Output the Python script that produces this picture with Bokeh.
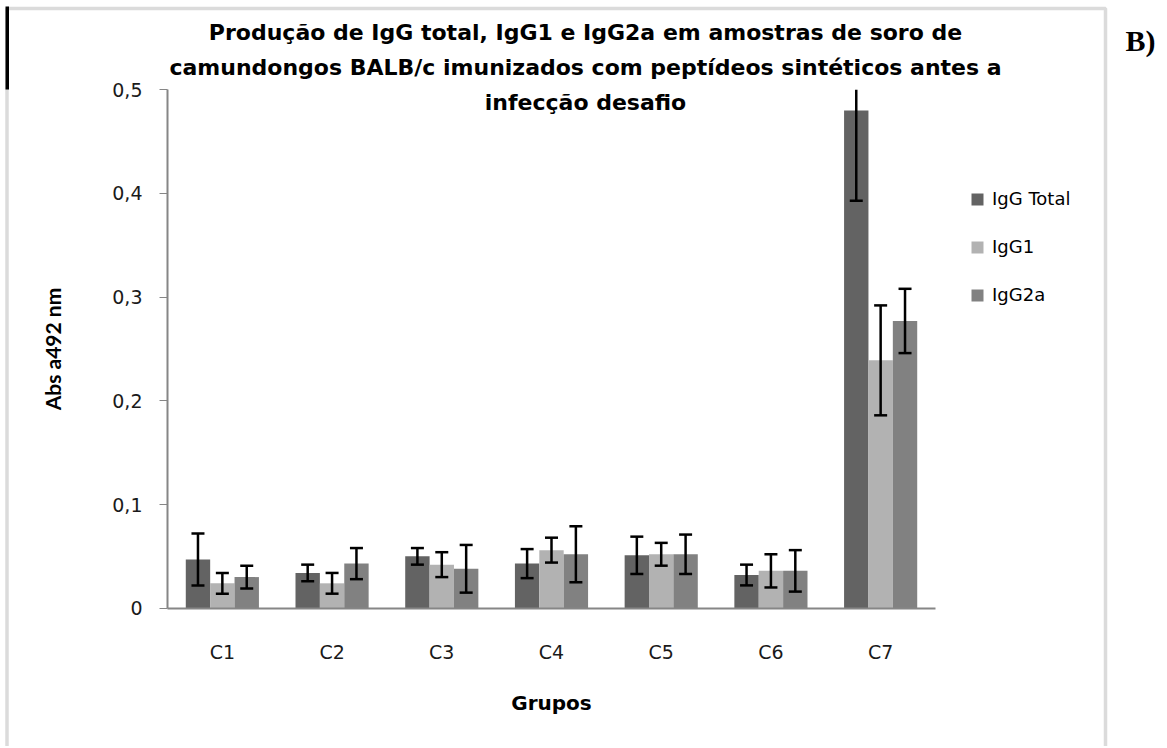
from bokeh.plotting import figure
from bokeh.models import (ColumnDataSource, Range1d, FixedTicker, Label, CDSView,
                          BooleanFilter, Legend, LegendItem, BoxAnnotation)
from bokeh.transform import dodge
from bokeh.embed import file_html
from bokeh.resources import INLINE

# ---------------- data ----------------
groups = ["C1", "C2", "C3", "C4", "C5", "C6", "C7"]
series_names = ["IgG Total", "IgG1", "IgG2a"]
igg_total = [0.047, 0.034, 0.050, 0.043, 0.051, 0.032, 0.480]
igg_total_err = [0.025, 0.008, 0.008, 0.014, 0.018, 0.010, 0.087]
igg1 = [0.024, 0.024, 0.042, 0.056, 0.052, 0.036, 0.239]
igg1_err = [0.010, 0.010, 0.012, 0.012, 0.011, 0.016, 0.053]
igg2a = [0.030, 0.043, 0.038, 0.052, 0.052, 0.036, 0.277]
igg2a_err = [0.011, 0.015, 0.023, 0.027, 0.019, 0.020, 0.031]
y_ticks = [0, 0.1, 0.2, 0.3, 0.4, 0.5]
y_tick_labels = ["0", "0,1", "0,2", "0,3", "0,4", "0,5"]
title_lines = [
    "Produção de IgG total, IgG1 e IgG2a em amostras de soro de",
    "camundongos BALB/c imunizados com peptídeos sintéticos antes a",
    "infecção desafio",
]
y_label = "Abs a492 nm"
x_label = "Grupos"
panel_tag = "B)"

# ---------------- layout / style ----------------
W, H = 1167, 746                 # canvas size
AX_L, AX_R = 167, 935            # plot-area left / right (px)
AX_T, AX_B = 89.2, 607.7         # plot-area top / bottom (px)
Y_MAX = 0.5
n = len(groups)
ppx = (AX_R - AX_L) / n
ppy = (AX_B - AX_T) / Y_MAX

colors = ["#636363", "#b2b2b2", "#818181"]
TXT = "DejaVu Sans"
bar_w = 1 / 4.5
offsets = [-bar_w, 0.0, bar_w]
positions = [i + 0.5 for i in range(n)]

p = figure(
    width=W, height=H,
    x_range=Range1d(-AX_L / ppx, n + (W - AX_R) / ppx),
    y_range=Range1d(-(H - AX_B) / ppy, Y_MAX + AX_T / ppy),
    output_backend="svg", toolbar_location=None, tools="",
    min_border=0,
)
p.outline_line_color = None
p.xgrid.grid_line_color = None
p.ygrid.grid_line_color = None
p.background_fill_color = "white"
p.border_fill_color = "white"

values = [igg_total, igg1, igg2a]
errs = [igg_total_err, igg1_err, igg2a_err]
for name, vals, er, col, off in zip(series_names, values, errs, colors, offsets):
    up = [v + e for v, e in zip(vals, er)]
    src = ColumnDataSource(dict(
        x=positions, value=vals,
        upper=[min(u, Y_MAX) for u in up],
        lower=[v - e for v, e in zip(vals, er)],
    ))
    xd = dodge("x", off)
    p.vbar(x=xd, top="value", width=bar_w, source=src,
           fill_color=col, line_color=None)
    p.segment(x0=xd, y0="lower", x1=xd, y1="upper", source=src,
              line_color="black", line_width=2.5)
    cap_view = CDSView(filter=BooleanFilter(booleans=[u <= Y_MAX for u in up]))
    p.scatter(x=xd, y="upper", source=src, view=cap_view, marker="dash", size=13,
              line_color="black", line_width=2.5)
    p.scatter(x=xd, y="lower", source=src, marker="dash", size=13,
              line_color="black", line_width=2.5)

# legend with square markers
legend_items = []
for name, col in zip(series_names, colors):
    lr = p.scatter(x=[positions[0]], y=[-10], marker="square", size=12,
                   fill_color=col, line_color=None)
    legend_items.append(LegendItem(label=name, renderers=[lr]))
legend = Legend(items=legend_items, location=(962, H - 309.5),
                glyph_width=30, glyph_height=30, label_height=30,
                spacing=18, padding=0, margin=0, label_standoff=-4,
                label_text_font=TXT, label_text_font_size="18px",
                label_text_color="black",
                background_fill_alpha=0, border_line_color=None)
p.add_layout(legend)

# axes (drawn at the data origin)
p.yaxis.fixed_location = 0
p.yaxis.bounds = (0, Y_MAX)
p.yaxis.ticker = FixedTicker(ticks=y_ticks)
p.yaxis.major_label_overrides = {t: l for t, l in zip(y_ticks, y_tick_labels)}
p.yaxis.minor_tick_line_color = None
p.yaxis.major_tick_out = 8
p.yaxis.major_tick_in = 0
p.yaxis.major_tick_line_color = "#868686"
p.yaxis.axis_line_color = "#868686"
p.yaxis.axis_line_width = 2
p.yaxis.major_label_standoff = 17
p.yaxis.major_label_text_font = TXT
p.yaxis.major_label_text_font_size = "19px"
p.yaxis.major_label_text_color = "#1a1a1a"
p.yaxis.axis_label = y_label
p.yaxis.axis_label_text_font = "Lato"
p.yaxis.axis_label_text_font_style = "bold"
p.yaxis.axis_label_text_font_size = "21px"
p.yaxis.axis_label_text_color = "black"
p.yaxis.axis_label_standoff = 44

p.xaxis.fixed_location = 0
p.xaxis.bounds = (0, n)
p.xaxis.ticker = FixedTicker(ticks=positions)
p.xaxis.major_label_overrides = {x: g for x, g in zip(positions, groups)}
p.xaxis.major_tick_line_color = None
p.xaxis.minor_tick_line_color = None
p.xaxis.axis_line_color = "#868686"
p.xaxis.axis_line_width = 2
p.xaxis.major_tick_out = 0
p.xaxis.major_label_standoff = 33
p.xaxis.major_label_text_font = TXT
p.xaxis.major_label_text_font_size = "19px"
p.xaxis.major_label_text_color = "#1a1a1a"
p.xaxis.axis_label = x_label
p.xaxis.axis_label_text_font = TXT
p.xaxis.axis_label_text_font_style = "bold"
p.xaxis.axis_label_text_font_size = "20px"
p.xaxis.axis_label_text_color = "black"
p.xaxis.axis_label_standoff = 24

# title lines
for line, yy in zip(title_lines, [32, 67, 102]):
    p.add_layout(Label(x=585, y=H - yy, x_units="screen", y_units="screen", text=line,
                       text_align="center", text_baseline="middle",
                       text_font=TXT, text_font_style="bold", text_font_size="22px",
                       text_color="black"))

p.add_layout(Label(x=1125, y=H - 40, x_units="screen", y_units="screen", text=panel_tag,
                   text_align="left", text_baseline="middle",
                   text_font="Liberation Serif", text_font_style="bold",
                   text_font_size="30px", text_color="black"))

# chart-area border
p.add_layout(BoxAnnotation(left=6.5, right=1105, top=H - 8, bottom=-60,
                           left_units="screen", right_units="screen",
                           top_units="screen", bottom_units="screen",
                           fill_alpha=0, line_color="#888888", line_width=3.5))
p.add_layout(BoxAnnotation(left=5, right=8.5, top=H - 6, bottom=H - 89,
                           left_units="screen", right_units="screen",
                           top_units="screen", bottom_units="screen",
                           fill_color="black", fill_alpha=1, line_color=None))

open("out.html", "w").write(file_html(p, INLINE))
